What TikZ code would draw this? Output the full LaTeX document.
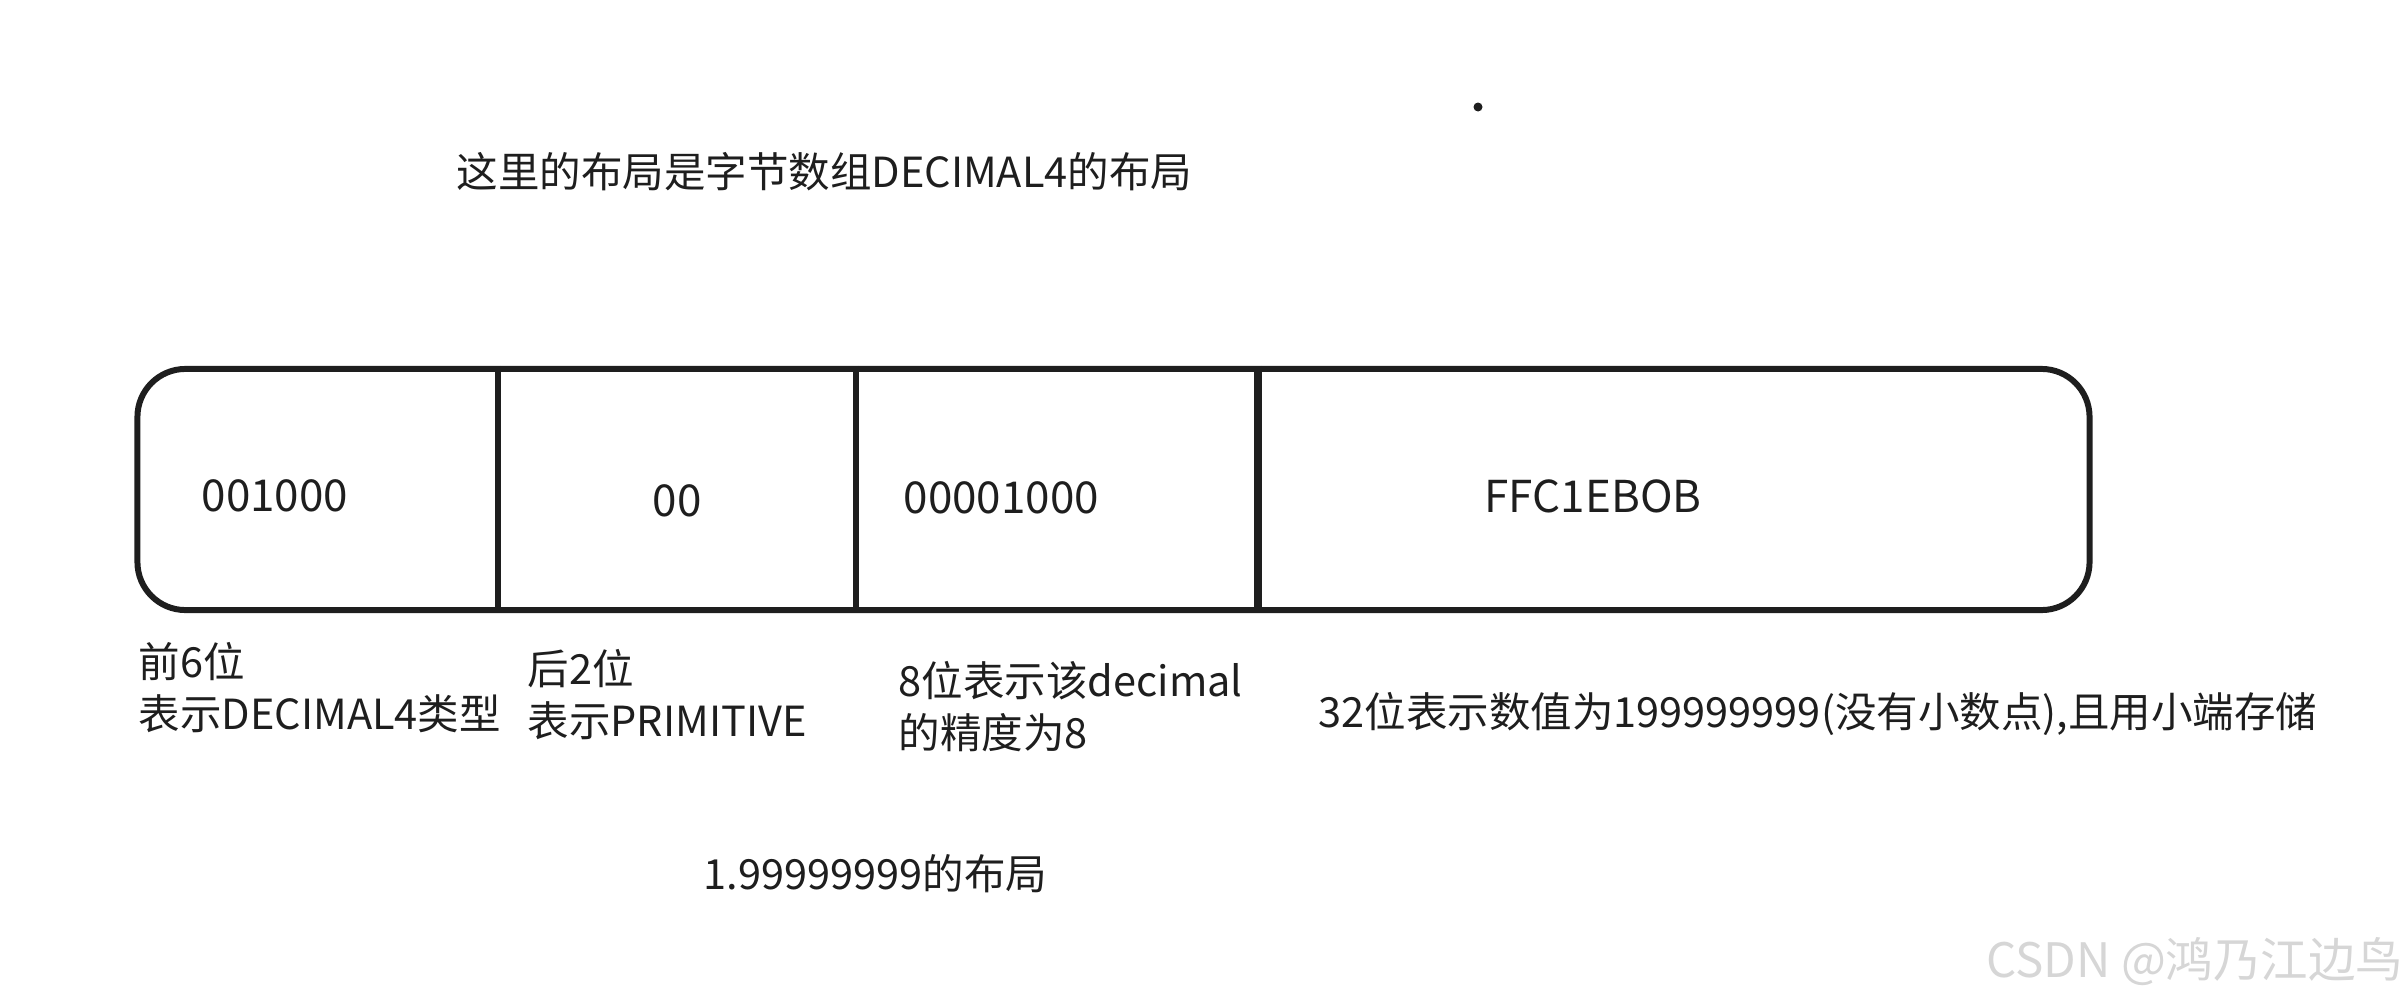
\documentclass[tikz,border=0pt]{standalone}
\usepackage{fontspec}
\setmainfont{Noto Sans CJK SC}
\definecolor{ink}{HTML}{1E1E1E}
\definecolor{wm}{HTML}{D6D6D6}
\tikzset{
  lbl/.style={anchor=west, inner sep=0pt, text=ink, font=\fontsize{11.8}{14.8}\selectfont, align=left},
  celltext/.style={inner sep=0pt, text=ink, font=\fontsize{12.5}{15}\selectfont},
  outline/.style={draw=ink, line width=1.7pt},
  divider/.style={draw=ink, line width=1.7pt},
}
\begin{document}
\begin{tikzpicture}[x=0.01cm, y=-0.01cm]
\useasboundingbox (0,0) rectangle (2408,1000);
% title
\node[lbl] (title) at (456,172) {这里的布局是字节数组DECIMAL4的布局};
% dot
\fill[ink] (1478,107) circle (4.5);
% main box
\node[outline, rounded corners=0.48cm, minimum width=19.51cm, minimum height=2.41cm, inner sep=0pt] (box) at (1113.5,489.5) {};
\coordinate (d1) at (498,489.5);
\coordinate (d2) at (856,489.5);
\coordinate (d3) at (1258,489.5);
\draw[divider] (box.north -| d1) -- (box.south -| d1);
\draw[divider] (box.north -| d2) -- (box.south -| d2);
\draw[divider, line width=2.3pt] (box.north -| d3) -- (box.south -| d3);
% cell texts
\node[celltext, anchor=west] (c1) at (201,496) {001000};
\node[celltext] (c2) at (677,501) {00};
\node[celltext, anchor=west] (c3) at (903,498) {00001000};
\node[celltext, anchor=west] (c4) at (1484,496) {FFC1EBOB};
% labels
\node[lbl] (l1) at (138,688) {前6位\\表示DECIMAL4类型};
\node[lbl] (l2) at (527,695) {后2位\\表示PRIMITIVE};
\node[lbl] (l3) at (898,707) {8位表示该decimal\\的精度为8};
\node[lbl] (l4) at (1318,714) {32位表示数值为199999999(没有小数点),且用小端存储};
\node[lbl] (bottom) at (703,874) {1.99999999的布局};
% watermark
\node[anchor=east, inner sep=0pt, text=wm, font=\fontsize{13.5}{16}\selectfont] (csdn) at (2404,962) {CSDN @鸿乃江边鸟};
\end{tikzpicture}
\end{document}
